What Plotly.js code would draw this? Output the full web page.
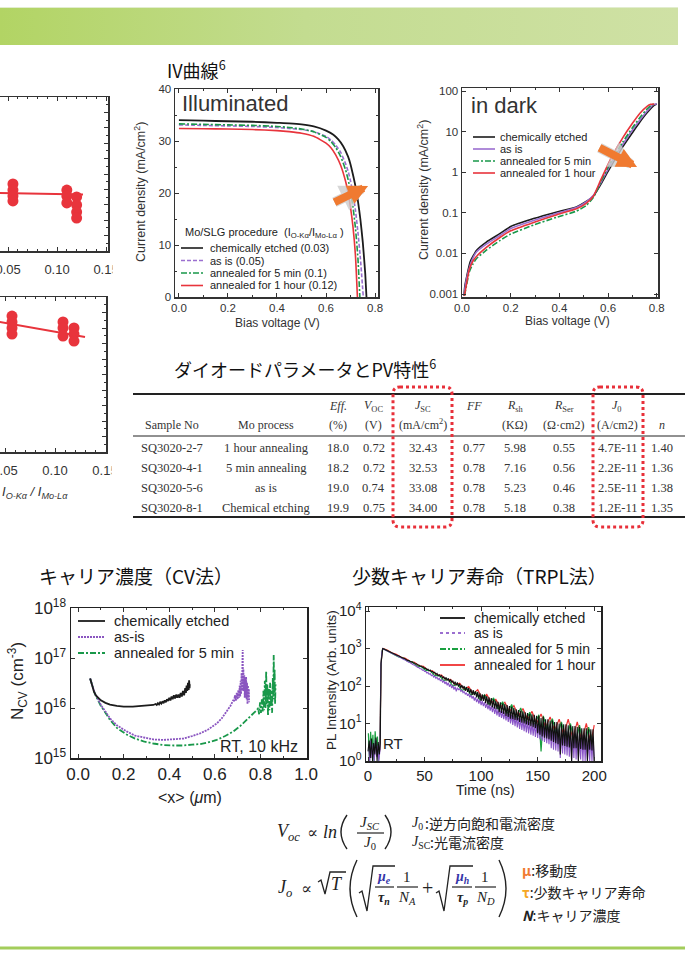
<!DOCTYPE html>
<html><head><meta charset="utf-8">
<script src="https://cdn.plot.ly/plotly-3.0.1.min.js"></script>
<style>
html,body{margin:0;padding:0;background:#fff;}
#bar{position:absolute;left:0;top:7px;width:678px;height:37px;background:linear-gradient(to right,#b2d464,#c3dc90 45%,#cfe1a5);border-top:1px solid #e2edcf;}
#chart{position:absolute;left:0;top:0;width:685px;height:955px;}
</style></head><body>
<div id="bar"></div><div id="chart"></div>
<script>
// ================= DATA =================
// Left panels: O-Kα / Mo-Lα ratio (partially visible)
const ratioTopX=[0.055,0.055,0.055,0.055,0.110,0.110,0.110,0.120,0.120,0.120,0.120];
const ratioTopY=[4.35,3.96,3.57,3.25,3.96,3.57,3.12,3.51,2.99,2.53,2.14];
const fitTopX=[0.03,0.1265], fitTopY=[3.78,3.67];
const ratioBotX=[0.057,0.057,0.057,0.057,0.108,0.108,0.108,0.119,0.119,0.119];
const ratioBotY=[8.77,8.39,8.0,7.61,8.39,8.0,7.48,8.0,7.61,7.16];
const fitBotX=[0.03,0.130], fitBotY=[8.56,7.42];

// IV illuminated
const ivEtchedV=[0,0.1,0.2,0.3,0.4,0.45,0.5,0.55,0.6,0.63,0.65,0.67,0.69,0.7,0.71,0.72,0.73,0.74,0.75,0.76,0.765];
const ivEtchedJ=[34.0,33.9,33.8,33.7,33.5,33.4,33.2,32.8,32.0,31.2,30.3,29.0,27.0,25.5,23.5,21.3,18.5,15.0,10.5,4.5,0];
const ivAsIsV=[0,0.1,0.2,0.3,0.4,0.45,0.5,0.55,0.6,0.62,0.64,0.66,0.68,0.69,0.7,0.71,0.72,0.73,0.74,0.752];
const ivAsIsJ=[33.1,33.0,32.9,32.8,32.6,32.4,32.2,31.8,30.9,30.2,29.2,27.8,25.6,24.2,22.3,19.8,16.7,12.5,7.5,0];
const ivAnn5V=[0,0.1,0.2,0.3,0.4,0.45,0.5,0.55,0.6,0.62,0.64,0.66,0.68,0.69,0.7,0.71,0.72,0.73,0.738];
const ivAnn5J=[33.3,33.2,33.1,33.0,32.8,32.6,32.3,31.8,30.7,29.9,28.7,27.0,24.4,22.6,20.3,17.3,13.3,7.5,0];
const ivAnn1hV=[0,0.1,0.2,0.3,0.4,0.45,0.5,0.55,0.6,0.62,0.64,0.66,0.68,0.69,0.7,0.71,0.72,0.728];
const ivAnn1hJ=[32.4,32.35,32.3,32.2,32.0,31.8,31.5,30.9,29.6,28.7,27.3,25.3,22.2,20.0,17.2,13.5,8.0,0];
const ivLegend=['chemically etched (0.03)','as is (0.05)','annealed for 5 min (0.1)','annealed for 1 hour (0.12)'];

// IV dark
const darkEtchedV=[0.008,0.012,0.02,0.034,0.06,0.1,0.157,0.2,0.294,0.39,0.47,0.51,0.54,0.57,0.595,0.62,0.66,0.7,0.73,0.76,0.79,0.8];
const darkEtchedJ=[0.0009,0.0016,0.0028,0.0063,0.012,0.019,0.031,0.046,0.072,0.105,0.14,0.19,0.26,0.5,0.93,1.7,4.2,9.4,17,29,45,48];
const darkAsIsV=[0.008,0.015,0.025,0.04,0.06,0.1,0.157,0.2,0.294,0.39,0.47,0.51,0.54,0.57,0.595,0.62,0.66,0.7,0.73,0.76,0.785,0.8];
const darkAsIsJ=[0.0009,0.0018,0.0034,0.0066,0.011,0.017,0.028,0.041,0.065,0.097,0.135,0.185,0.27,0.55,1.05,2.0,4.8,11,19,32,46,48];
const darkAnn5V=[0.01,0.02,0.03,0.045,0.06,0.1,0.157,0.2,0.294,0.39,0.47,0.51,0.54,0.57,0.595,0.62,0.66,0.7,0.73,0.76,0.78,0.795];
const darkAnn5J=[0.0009,0.0018,0.0035,0.0055,0.0075,0.012,0.021,0.03,0.05,0.078,0.11,0.15,0.24,0.58,1.15,2.2,5.5,12.5,22,36,46,48];
const darkAnn1hV=[0.01,0.02,0.03,0.045,0.06,0.1,0.157,0.2,0.294,0.39,0.47,0.51,0.54,0.57,0.595,0.62,0.66,0.7,0.73,0.76,0.775,0.79];
const darkAnn1hJ=[0.0009,0.002,0.004,0.0065,0.0085,0.014,0.025,0.036,0.058,0.09,0.125,0.17,0.26,0.65,1.35,2.7,7.0,16,28,42,47,48];
const darkLegend=['chemically etched','as is','annealed for 5 min','annealed for 1 hour'];

// Table
const tblSample=['SQ3020-2-7','SQ3020-4-1','SQ3020-5-6','SQ3020-8-1'];
const tblProcess=['1 hour annealing','5 min annealing','as is','Chemical etching'];
const tblEff=[18.0,18.2,19.0,19.9];
const tblVoc=[0.72,0.72,0.74,0.75];
const tblJsc=[32.43,32.53,33.08,34.00];
const tblFF=[0.77,0.78,0.78,0.78];
const tblRsh=[5.98,7.16,5.23,5.18];
const tblRser=[0.55,0.56,0.46,0.38];
const tblJ0=[4.7e-11,2.2e-11,2.5e-11,1.2e-11];
const tblN=[1.40,1.36,1.38,1.35];
const tblHead1=['','','<i>Eff.</i>','<i>V</i><sub>OC</sub>','<i>J</i><sub>SC</sub>','<i>FF</i>','<i>R</i><sub>sh</sub>','<i>R</i><sub>Ser</sub>','<i>J</i><sub>0</sub>',''];
const tblHead2=['Sample No','Mo process','(%)','(V)','(mA/cm<sup>2</sup>)','','(KΩ)','(Ω·cm2)','(A/cm2)','<i>n</i>'];

// CV carrier concentration
const cvEtchedX=[0.053,0.058,0.063,0.07,0.08,0.09,0.1,0.12,0.14,0.17,0.2,0.24,0.28,0.31,0.33,0.34,0.345,0.35,0.355,0.36,0.365,0.37,0.375,0.38,0.385,0.39,0.395,0.4,0.405,0.41,0.415,0.42,0.425,0.43,0.435,0.44,0.445,0.45,0.455,0.46,0.465,0.47,0.473,0.476,0.479,0.482,0.485,0.487,0.489,0.49];
const cvEtchedN=[3.9e16,3.2e16,2.6e16,2.1e16,1.75e16,1.55e16,1.42e16,1.27e16,1.17e16,1.1e16,1.07e16,1.07e16,1.09e16,1.12e16,1.15e16,1.2e16,1.15e16,1.25e16,1.18e16,1.3e16,1.22e16,1.36e16,1.25e16,1.42e16,1.3e16,1.5e16,1.38e16,1.6e16,1.42e16,1.7e16,1.5e16,1.8e16,1.55e16,1.85e16,1.6e16,1.85e16,1.6e16,2.0e16,1.7e16,2.2e16,1.8e16,2.5e16,2.0e16,2.8e16,2.2e16,3.2e16,2.3e16,3.6e16,2.5e16,3.0e16];
const cvAsIsX=[0.053,0.06,0.067,0.075,0.082,0.1,0.12,0.14,0.17,0.213,0.25,0.287,0.33,0.374,0.42,0.462,0.5,0.535,0.57,0.608,0.63,0.652,0.668,0.681,0.684,0.688,0.692,0.696,0.7,0.703,0.706,0.709,0.711,0.713,0.715,0.717,0.719,0.721,0.722,0.723,0.725,0.727,0.729,0.731,0.733,0.735,0.737,0.739,0.741,0.743,0.745,0.747,0.749,0.75];
const cvAsIsN=[3.9e16,3.0e16,2.35e16,1.9e16,1.7e16,1.15e16,8.5e15,6.2e15,4.5e15,3.4e15,2.8e15,2.55e15,2.35e15,2.3e15,2.35e15,2.45e15,2.75e15,3.1e15,3.7e15,4.9e15,6.2e15,8.5e15,1.1e16,1.45e16,1.35e16,1.8e16,1.4e16,2.0e16,1.5e16,2.3e16,1.6e16,2.8e16,1.7e16,3.5e16,1.9e16,5e16,2.2e16,9e16,1.45e17,3e16,6e16,2.2e16,4.5e16,1.6e16,3.8e16,1.9e16,4.2e16,1.5e16,3.2e16,1.2e16,2.8e16,1.6e16,2.4e16,1.3e16];
const cvAnn5X=[0.053,0.06,0.067,0.075,0.085,0.1,0.12,0.14,0.17,0.213,0.25,0.287,0.33,0.374,0.42,0.462,0.5,0.535,0.57,0.608,0.645,0.681,0.71,0.74,0.765,0.784,0.79,0.794,0.798,0.802,0.806,0.81,0.813,0.816,0.819,0.822,0.825,0.827,0.83,0.833,0.836,0.839,0.842,0.845,0.848,0.851,0.854,0.856,0.858,0.86,0.862,0.864,0.866];
const cvAnn5N=[3.9e16,3.0e16,2.3e16,1.85e16,1.5e16,1.1e16,8.0e15,5.8e15,4.0e15,2.95e15,2.45e15,2.15e15,1.95e15,1.82e15,1.78e15,1.78e15,1.85e15,1.9e15,2.05e15,2.3e15,2.75e15,3.4e15,4.3e15,5.75e15,7.5e15,9.1e15,1.0e16,7.5e15,1.3e16,8e15,1.5e16,8.5e15,2.2e16,9e15,3.5e16,1.0e16,5.5e16,1.2e16,3e16,7e15,2.5e16,9e15,3.2e16,1.1e16,2.2e16,8e15,4e16,1.5e16,1.15e17,2e16,6e16,1.2e16,3e16];
const cvLegend=['chemically etched','as-is','annealed for 5 min'];

// TRPL (time in ns, PL counts)
const trplEtchedT=[0,1,2,3,4,5,6,7,8,9,10,10.8,11.5,12.3,13,
14,15,16,17,18,19,20,21,22,23,24,25,26,27,28,29,30,31,32,33,34,35,36,37,38,39,40,41,42,43,44,45,46,47,48,49,50,51,52,53,54,55,56,57,58,59,60,61,62,63,64,65,66,67,68,69,70,71,72,73,74,75,76,77,78,79,80,81,82,83,84,85,86,87,88,89,90,91,92,93,94,95,96,97,98,99,100,101,102,103,104,105,106,107,108,109,110,111,112,113,114,115,116,117,118,119,120,121,122,123,124,125,126,127,128,129,130,131,132,133,134,135,136,137,138,139,140,141,142,143,144,145,146,147,148,149,150,151,152,153,154,155,156,157,158,159,160,161,162,163,164,165,166,167,168,169,170,171,172,173,174,175,176,177,178,179,180,181,182,183,184,185,186,187,188,189,190,191,192,193,194,195,196,197,198,199,200];
const trplEtchedI=[1.8,3.5,1.2,4,1,3,1.5,4.2,1,3.2,1.5,3,400,850,1000,
970,935,912,875,858,820,800,778,745,728,700,684,655,640,612,600,580,552,548,515,512,480,482,455,440,435,410,412,385,388,362,362,338,342,318,320,296,300,275,282,255,266,238,246,222,232,205,218,188,200,180,190,160,178,150,170,142,160,128,150,124,138,110,130,104,124,96,116,88,106,86,100,74,94,70,88,64,82,58,78,57,72,50,70,46,64,40,60,40,58,35,54,32,50,30,48,27,44,25,40,24,38,20,37,19,34,18,33,16,31,15,29,13.5,28,13,26,12.5,24,12,23,11,22,10.5,21,10,20,9.5,19,9,18,8.5,17.5,8,17,7.5,16,5.5,16,5,14,4.5,15,4.2,13,4,13,3.8,12,3.5,12,3.2,11,3,11,2.8,10,1.5,10,2.6,9.5,2.5,9.5,2.4,9,2.3,9,1,8.5,2.2,8.5,2.2,8,1,8,2.1,7.5,2,7.5,2,7.5,1,7,2,7,1.9,7,1];
const trplAsIsT=[0.5,1.5,2.5,3.5,4.5,5.5,6.5,7.5,8.5,9.5,10.6,11.3,12.2,13.2,
14,15,16,17,18,19,20,21,22,23,24,25,26,27,28,29,30,31,32,33,34,35,36,37,38,39,40,41,42,43,44,45,46,47,48,49,50,51,52,53,54,55,56,57,58,59,60,61,62,63,64,65,66,67,68,69,70,71,72,73,74,75,76,77,78,79,80,81,82,83,84,85,86,87,88,89,90,91,92,93,94,95,96,97,98,99,100,101,102,103,104,105,106,107,108,109,110,111,112,113,114,115,116,117,118,119,120,121,122,123,124,125,126,127,128,129,130,131,132,133,134,135,136,137,138,139,140,141,142,143,144,145,146,147,148,149,150,151,152,153,154,155,156,157,158,159,160,161,162,163,164,165,166,167,168,169,170,171,172,173,174,175,176,177,178,179,180,181,182,183,184,185,186,187,188,189,190,191,192,193,194,195,196,197,198,199,200];
const trplAsIsI=[2.5,1,3.5,1.2,2.8,1,3.8,1.3,2.6,1,2,300,800,990,
955,915,890,850,830,800,770,752,720,705,675,660,628,615,585,575,545,530,505,495,465,458,430,425,398,395,368,362,338,335,312,310,288,288,264,268,244,248,222,230,205,214,188,198,172,184,160,172,148,160,136,150,124,140,114,130,105,122,96,112,88,104,80,96,72,90,80,84,72,78,66,72,60,66,55,62,50,58,46,54,41,50,37,46,34,43,31,40,29,37,26,34,24,32,22,30,20,28,18,26,16.5,24,15,22,14,21,13,20,12,19,11,18,10,17,9.2,16,8.5,15,7.8,14,7.2,13.5,6.7,13,6.2,12,5.8,11.5,5.4,11,5,10.5,4.7,10,4.4,9.5,4.1,9,3.8,8.8,3.5,8.5,3.2,8.2,3,8,2.8,7.8,2.2,7.5,2,7.2,1.9,7,1.8,6.8,1.2,6.6,1.6,6.4,1.5,6.2,1.4,6,1.3,5.8,1,5.6,1.2,5.5,1.1,5.4,1,5.2,1.1,5,1,5,1,4.8,1,4.6,1,4.5,1,4.4,1];
const trplAnn5T=[0.3,1.3,2.3,3.3,4.3,5.3,6.3,7.3,8.3,9.3,10.6,11.4,12.4,13.1,15,19,23,27,31,35,39,43,47,51,55,59,63,67,71,75,79,83,87,91,95,99,103,107,111,115,119,123,127,131,135,139,143,147,151,153,155,159,163,167,171,175,179,183,187,191,195,199];
const trplAnn5I=[5.5,1,6,1.5,5,1,6.2,2,4.5,1,3,350,880,990,935,800,715,600,560,455,440,345,330,262,255,190,190,140,150,100,112,75,90,56,70,42,58,32,48,24,38,18,32,14,26,11,20,9,17,1.8,16,6,13.5,4.5,11,3.5,10,2.5,9,2,8,3];
const trplAnn1hT=[0.7,2.7,4.7,6.7,8.7,10.4,11.6,12.6,13.4,17,21,25,29,33,37,41,45,49,53,57,61,65,69,73,77,81,85,89,93,97,101,105,109,113,117,121,125,129,133,137,141,145,149,153,157,161,165,169,173,177,181,185,189,193,197,200];
const trplAnn1hI=[2.2,3,1.5,3.5,2,2,420,900,1000,905,770,700,590,545,455,430,345,335,260,255,195,195,145,150,108,118,82,96,62,80,48,60,36,44,27,37,21,30,16,25,13,21,10,18,8,15,6.5,13,5,13,4,11,3.5,10,3,9];
const trplLegend=['chemically etched','as is','annealed for 5 min','annealed for 1 hour'];

// ================= DRAWING =================
const W=685,H=955;
const X=v=>v/W, Y=v=>1-v/H;
const SANS='Liberation Sans, Arial, sans-serif';
const JP='Noto Sans CJK JP, Noto Sans, sans-serif';
const SERIF='Liberation Serif, DejaVu Serif, serif';
const RED='#e8343c', BLACK='#1c1c1c', PURPLE='#9b6fd0', GREEN='#19984a', ORANGE='#f07a30';
const DASHDOT='6px,2px,2px,2px';

const traces=[];
function tr(o){traces.push(Object.assign({type:'scatter',hoverinfo:'skip',showlegend:false},o));}

tr({x:fitTopX,y:fitTopY,mode:'lines',line:{color:RED,width:2},xaxis:'x',yaxis:'y'});
tr({x:ratioTopX,y:ratioTopY,mode:'markers',marker:{color:RED,size:11},xaxis:'x',yaxis:'y'});
tr({x:fitBotX,y:fitBotY,mode:'lines',line:{color:RED,width:2},xaxis:'x2',yaxis:'y2'});
tr({x:ratioBotX,y:ratioBotY,mode:'markers',marker:{color:RED,size:11},xaxis:'x2',yaxis:'y2'});

const sp={shape:'spline',smoothing:0.5};
tr({x:ivEtchedV,y:ivEtchedJ,mode:'lines',line:Object.assign({color:BLACK,width:1.8},sp),xaxis:'x3',yaxis:'y3'});
tr({x:ivAsIsV,y:ivAsIsJ,mode:'lines',line:Object.assign({color:PURPLE,width:1.6,dash:'4px,2px'},sp),xaxis:'x3',yaxis:'y3'});
tr({x:ivAnn5V,y:ivAnn5J,mode:'lines',line:Object.assign({color:GREEN,width:1.6,dash:DASHDOT},sp),xaxis:'x3',yaxis:'y3'});
tr({x:ivAnn1hV,y:ivAnn1hJ,mode:'lines',line:Object.assign({color:RED,width:1.6},sp),xaxis:'x3',yaxis:'y3'});

tr({x:darkEtchedV,y:darkEtchedJ,mode:'lines',line:Object.assign({color:BLACK,width:1.6},sp),xaxis:'x4',yaxis:'y4'});
tr({x:darkAsIsV,y:darkAsIsJ,mode:'lines',line:Object.assign({color:PURPLE,width:1.6},sp),xaxis:'x4',yaxis:'y4'});
tr({x:darkAnn5V,y:darkAnn5J,mode:'lines',line:Object.assign({color:GREEN,width:1.6,dash:DASHDOT},sp),xaxis:'x4',yaxis:'y4'});
tr({x:darkAnn1hV,y:darkAnn1hJ,mode:'lines',line:Object.assign({color:RED,width:1.6},sp),xaxis:'x4',yaxis:'y4'});

tr({x:cvAnn5X,y:cvAnn5N,mode:'lines',line:{color:GREEN,width:1.8,dash:DASHDOT},xaxis:'x5',yaxis:'y5'});
tr({x:cvAsIsX,y:cvAsIsN,mode:'lines',line:{color:'#8a55c0',width:1.8,dash:'2px,1px'},xaxis:'x5',yaxis:'y5'});
tr({x:cvEtchedX,y:cvEtchedN,mode:'lines',line:{color:BLACK,width:1.8},xaxis:'x5',yaxis:'y5'});

tr({x:trplAnn1hT,y:trplAnn1hI,mode:'lines',line:{color:'#f03232',width:1.2},xaxis:'x6',yaxis:'y6'});
tr({x:trplAnn5T,y:trplAnn5I,mode:'lines',line:{color:'#1aa040',width:1.2},xaxis:'x6',yaxis:'y6'});
tr({x:trplAsIsT,y:trplAsIsI,mode:'lines',line:{color:'#8a55c8',width:1.1},xaxis:'x6',yaxis:'y6'});
tr({x:trplEtchedT,y:trplEtchedI,mode:'lines',line:{color:'#111',width:1.1},xaxis:'x6',yaxis:'y6'});

const axBase={showgrid:false,zeroline:false,showline:true,mirror:'allticks',ticks:'inside',ticklen:4,tickwidth:1,linewidth:1.5,linecolor:'#333',tickcolor:'#333',tickfont:{family:SANS,size:12,color:'#333'},fixedrange:true};
function ax(o){return Object.assign({},axBase,o);}
const minor=(d)=>({ticks:'inside',ticklen:2,dtick:d,tickcolor:'#333'});

const layout={
  width:W,height:H,margin:{l:0,r:0,t:0,b:0},paper_bgcolor:'rgba(0,0,0,0)',plot_bgcolor:'rgba(0,0,0,0)',showlegend:false,
  xaxis:ax({domain:[0,X(108)],range:[0.0418,0.152],tick0:0,dtick:0.05,tickformat:'.2f',anchor:'y',ticklabeloverflow:'allow',ticklabelstandoff:6,tickfont:{family:SANS,size:13,color:'#333'},minor:Object.assign(minor(0.01),{tick0:0})}),
  yaxis:ax({domain:[Y(251),Y(97)],range:[0,10],side:'right',mirror:false,showticklabels:false,dtick:1,anchor:'x',minor:minor(0.5)}),
  xaxis2:ax({domain:[0,X(106)],range:[0.045,0.151],tick0:0,dtick:0.05,tickformat:'.2f',anchor:'y2',ticklabeloverflow:'allow',ticklabelstandoff:6,tickfont:{family:SANS,size:13,color:'#333'},minor:Object.assign(minor(0.01),{tick0:0})}),
  yaxis2:ax({domain:[Y(452),Y(297)],range:[0,10],side:'right',mirror:false,showticklabels:false,dtick:1,anchor:'x2',minor:minor(0.5)}),
  xaxis3:ax({domain:[X(175),X(378)],range:[-0.016,0.812],tick0:0,dtick:0.2,tickformat:'.1f',anchor:'y3',tickfont:{family:SANS,size:11.5,color:'#333'},minor:Object.assign(minor(0.1),{tick0:0})}),
  yaxis3:ax({domain:[Y(297),Y(89)],range:[0,40],dtick:10,anchor:'x3',tickfont:{family:SANS,size:11.5,color:'#333'},minor:minor(5)}),
  xaxis4:ax({domain:[X(462),X(658)],range:[0,0.805],tick0:0,dtick:0.2,tickformat:'.1f',anchor:'y4',tickfont:{family:SANS,size:11.5,color:'#333'},minor:Object.assign(minor(0.1),{tick0:0})}),
  yaxis4:ax({type:'log',domain:[Y(297),Y(88)],range:[-3.074,2.074],tickmode:'array',tickvals:[0.001,0.01,0.1,1,10,100],ticktext:['0.001','0.01','0.1','1','10','100'],anchor:'x4',tickfont:{family:SANS,size:11.5,color:'#333'}}),
  xaxis5:ax({domain:[X(71),X(307)],range:[-0.031,1.004],tick0:0,dtick:0.2,tickformat:'.1f',anchor:'y5',linecolor:'#222',tickfont:{family:SANS,size:17,color:'#222'},minor:Object.assign(minor(0.1),{tick0:0})}),
  yaxis5:ax({type:'log',domain:[Y(758),Y(608)],range:[15,18],tickmode:'array',tickvals:[1e15,1e16,1e17,1e18],ticktext:['10<sup>15</sup>','10<sup>16</sup>','10<sup>17</sup>','10<sup>18</sup>'],anchor:'x5',linecolor:'#222',tickfont:{family:SANS,size:17,color:'#222'}}),
  xaxis6:ax({domain:[X(366),X(601)],range:[-1.8,206],tick0:0,dtick:50,anchor:'y6',linecolor:'#222',tickfont:{family:SANS,size:15,color:'#222'},minor:Object.assign(minor(25),{tick0:0})}),
  yaxis6:ax({type:'log',domain:[Y(761),Y(607)],range:[0,4.107],tickmode:'array',tickvals:[1,10,100,1000,10000],ticktext:['10<sup>0</sup>','10<sup>1</sup>','10<sup>2</sup>','10<sup>3</sup>','10<sup>4</sup>'],anchor:'x6',linecolor:'#222',tickfont:{family:SANS,size:15,color:'#222'}})
};

const ann=[], shapes=[];
function T(x,y,text,size,opt){opt=opt||{};ann.push({xref:'paper',yref:'paper',x:X(x),y:Y(y),text:text,showarrow:false,xanchor:opt.xa||'center',yanchor:'middle',textangle:opt.angle||0,font:{family:opt.fam||SANS,size:size,color:opt.color||'#222'}});}
function L(x0,y0,x1,y1,color,width,dash){shapes.push({type:'line',xref:'paper',yref:'paper',x0:X(x0),y0:Y(y0),x1:X(x1),y1:Y(y1),line:{color:color,width:width,dash:dash||'solid'},layer:'above'});}
function P(pts,color,width){const s='M'+pts.map(p=>X(p[0])+','+Y(p[1])).join(' L');shapes.push({type:'path',xref:'paper',yref:'paper',path:s,line:{color:color||'#222',width:width||1.3},layer:'above'});}
function paren(x0,y0,x1,y1,cx){const s='M'+X(x0)+','+Y(y0)+' Q'+X(cx)+','+Y((y0+y1)/2)+' '+X(x1)+','+Y(y1);shapes.push({type:'path',xref:'paper',yref:'paper',path:s,line:{color:'#222',width:1.4},layer:'above'});}
function rr(x0,y0,x1,y1,r){const p=(x,y)=>X(x)+','+Y(y);return 'M'+p(x0+r,y0)+' L'+p(x1-r,y0)+' Q'+p(x1,y0)+' '+p(x1,y0+r)+' L'+p(x1,y1-r)+' Q'+p(x1,y1)+' '+p(x1-r,y1)+' L'+p(x0+r,y1)+' Q'+p(x0,y1)+' '+p(x0,y1-r)+' L'+p(x0,y0+r)+' Q'+p(x0,y0)+' '+p(x0+r,y0)+' Z';}
function rect(x0,y0,x1,y1,fill){shapes.push({type:'rect',xref:'paper',yref:'paper',x0:X(x0),y0:Y(y0),x1:X(x1),y1:Y(y1),fillcolor:fill,line:{width:0},layer:'above'});}

// the slide's overlapping pictures cut the last tick labels of the left panels
rect(112.5,260,128,284,'#fff');
rect(111.5,462,128,485,'#fff');
T(70,492,'<i>I</i><sub><i>O-Kα</i></sub><i> / I</i><sub><i>Mo-Lα</i></sub>',13,{xa:'right',color:'#333'});

T(165,69,'IV曲線<sup>6</sup>',18,{fam:JP,xa:'left',color:'#111'});
T(172,368,'ダイオードパラメータとPV特性<sup>6</sup>',18,{fam:JP,xa:'left',color:'#111'});
T(37,575,'キャリア濃度（CV法）',19,{fam:JP,xa:'left',color:'#111'});
T(350,575,'少数キャリア寿命（TRPL法）',19,{fam:JP,xa:'left',color:'#111'});

T(180,104,'Illuminated',22,{xa:'left',color:'#333'});
T(140,192,'Current density (mA/cm<sup>2</sup>)',12.5,{angle:-90,color:'#333'});
T(277,323,'Bias voltage (V)',12,{color:'#333'});
T(183,233,'Mo/SLG procedure  (I<sub>O-Kα</sub>/I<sub>Mo-Lα</sub> )',11,{xa:'left',color:'#222'});
const ivLegY=[248,260.5,273,285.5];
const ivSty=[[BLACK,'solid'],[PURPLE,'4px,2px'],[GREEN,DASHDOT],[RED,'solid']];
ivLegend.forEach((s,i)=>{L(181,ivLegY[i],203,ivLegY[i],ivSty[i][0],1.6,ivSty[i][1]);T(208,ivLegY[i],s,11,{xa:'left'});});

T(469,105,'in dark',22,{xa:'left',color:'#333'});
T(423,190,'Current density (mA/cm<sup>2</sup>)',12.5,{angle:-90,color:'#333'});
T(567,321,'Bias voltage (V)',12,{color:'#333'});
const dkLegY=[137,149,161,173];
const dkSty=[[BLACK,'solid'],[PURPLE,'solid'],[GREEN,DASHDOT],[RED,'solid']];
darkLegend.forEach((s,i)=>{L(473,dkLegY[i],495,dkLegY[i],dkSty[i][0],1.6,dkSty[i][1]);T(498,dkLegY[i],s,11,{xa:'left'});});

[[368,186,-35,17],[637,167,-39,-20]].forEach(a=>{
  ann.push({xref:'paper',yref:'paper',x:X(a[0]),y:Y(a[1]),ax:a[2],ay:a[3],text:'',showarrow:true,arrowhead:2,arrowsize:0.55,arrowwidth:10,arrowcolor:'rgba(205,205,205,0.8)'});
  ann.push({xref:'paper',yref:'paper',x:X(a[0]),y:Y(a[1]),ax:a[2],ay:a[3],text:'',showarrow:true,arrowhead:2,arrowsize:0.5,arrowwidth:8,arrowcolor:ORANGE});
});

L(133,394,685,394,'#222',2); L(133,436,685,436,'#222',1); L(133,517,685,517,'#222',2);
const colX=[172,266,338,374,423,474,515,564,617,662];
tblHead1.forEach((s,i)=>{if(s)T(colX[i],406,s,12,{fam:SERIF,color:'#333'});});
tblHead2.forEach((s,i)=>{if(s)T(colX[i],425,s,12,{fam:SERIF,color:'#333'});});
const rowY=[448,468,488,508];
tblSample.forEach((s,r)=>{
  const cells=[s,tblProcess[r],tblEff[r].toFixed(1),tblVoc[r].toFixed(2),tblJsc[r].toFixed(2),tblFF[r].toFixed(2),tblRsh[r].toFixed(2),tblRser[r].toFixed(2),tblJ0[r].toExponential(1).toUpperCase(),tblN[r].toFixed(2)];
  cells.forEach((c,i)=>T(colX[i],rowY[r],c,12.5,{fam:SERIF,color:'#333'}));
});
shapes.push({type:'path',xref:'paper',yref:'paper',path:rr(393,387,452,527,7),line:{color:'#e8303a',width:3,dash:'dot'},layer:'above'});
shapes.push({type:'path',xref:'paper',yref:'paper',path:rr(593,387,643,527,7),line:{color:'#e8303a',width:3,dash:'dot'},layer:'above'});

T(17,681,'N<sub>CV</sub> (cm<sup>-3</sup>)',17,{angle:-90});
T(190,797,'&lt;x&gt; (<i>μ</i>m)',16);
T(300,746,'RT, 10 kHz',16,{xa:'right'});
const cvLegY=[621,637,653];
const cvSty=[[BLACK,'solid'],['#8a55c0','2px,1px'],[GREEN,DASHDOT]];
cvLegend.forEach((s,i)=>{L(78,cvLegY[i],105,cvLegY[i],cvSty[i][0],1.8,cvSty[i][1]);T(112,cvLegY[i],s,14.5,{xa:'left'});});

T(331,680,'PL Intensity (Arb. units)',13.5,{angle:-90});
T(485,790,'Time (ns)',14);
T(381,743,'RT',15,{xa:'left'});
const trLegY=[618,633,649,665];
const trSty=[['#111','solid'],['#9b6fd0','dot'],['#1aa040',DASHDOT],['#f03232','solid']];
trplLegend.forEach((s,i)=>{L(440,trLegY[i],465,trLegY[i],trSty[i][0],1.8,trSty[i][1]);T(472,trLegY[i],s,14,{xa:'left'});});

T(288,832,'<i>V<sub>oc</sub></i>',18,{fam:SERIF});
T(312,832,'∝',16,{fam:SERIF});
T(330,832,'<i>ln</i>',18,{fam:SERIF});
paren(347,815,347,849,335);
T(370,823,'<i>J<sub>SC</sub></i>',15,{fam:SERIF});
L(357,833,384,833,'#222',1.2);
T(370,843,'<i>J</i><sub>0</sub>',15,{fam:SERIF});
paren(385,815,385,849,397);
T(410,823,'<i>J</i><sub>0</sub>',14,{fam:SERIF,xa:'left'});
T(423,823,':逆方向飽和電流密度',14,{fam:JP,xa:'left'});
T(410,842,'<i>J</i><sub>SC</sub>',14,{fam:SERIF,xa:'left'});
T(428,842,':光電流密度',14,{fam:JP,xa:'left'});

T(285,888,'<i>J<sub>o</sub></i>',18,{fam:SERIF});
T(306,888,'∝',16,{fam:SERIF});
P([[318,882],[321,880],[325,894],[330,872],[346,872]]);
T(337,884,'<i>T</i>',18,{fam:SERIF});
paren(357,860,357,917,343);
P([[359,893],[362,891],[367,911],[373,866],[395,866]]);
T(384,877,'<b><i>μ<sub>e</sub></i></b>',14,{fam:SERIF,color:'#3535a8'});
L(375,887,394,887,'#222',1.2);
T(384,898,'<b><i>τ<sub>n</sub></i></b>',14,{fam:SERIF});
T(407,877,'1',15,{fam:SERIF});
L(397,887,418,887,'#222',1.2);
T(407,898,'<i>N<sub>A</sub></i>',15,{fam:SERIF});
T(427,888,'+',20,{fam:SERIF});
P([[436,893],[439,891],[444,911],[450,866],[473,866]]);
T(462,877,'<b><i>μ<sub>h</sub></i></b>',14,{fam:SERIF,color:'#3535a8'});
L(452,887,472,887,'#222',1.2);
T(462,898,'<b><i>τ<sub>p</sub></i></b>',14,{fam:SERIF});
T(485,877,'1',15,{fam:SERIF});
L(475,887,496,887,'#222',1.2);
T(485,898,'<i>N<sub>D</sub></i>',15,{fam:SERIF});
paren(499,860,499,917,513);
T(520,870,'<span style="color:#f07a30"><b>μ</b></span>:移動度',14,{fam:JP,xa:'left'});
T(520,892,'<span style="color:#f5a623"><b>τ</b></span>:少数キャリア寿命',14,{fam:JP,xa:'left'});
T(520,915,'<b><i>N</i></b>:キャリア濃度',14,{fam:JP,xa:'left'});

L(0,948,685,948,'#a3cd5b',3);

layout.annotations=ann; layout.shapes=shapes;
Plotly.newPlot('chart',traces,layout,{staticPlot:true,displayModeBar:false});
</script></body></html>
